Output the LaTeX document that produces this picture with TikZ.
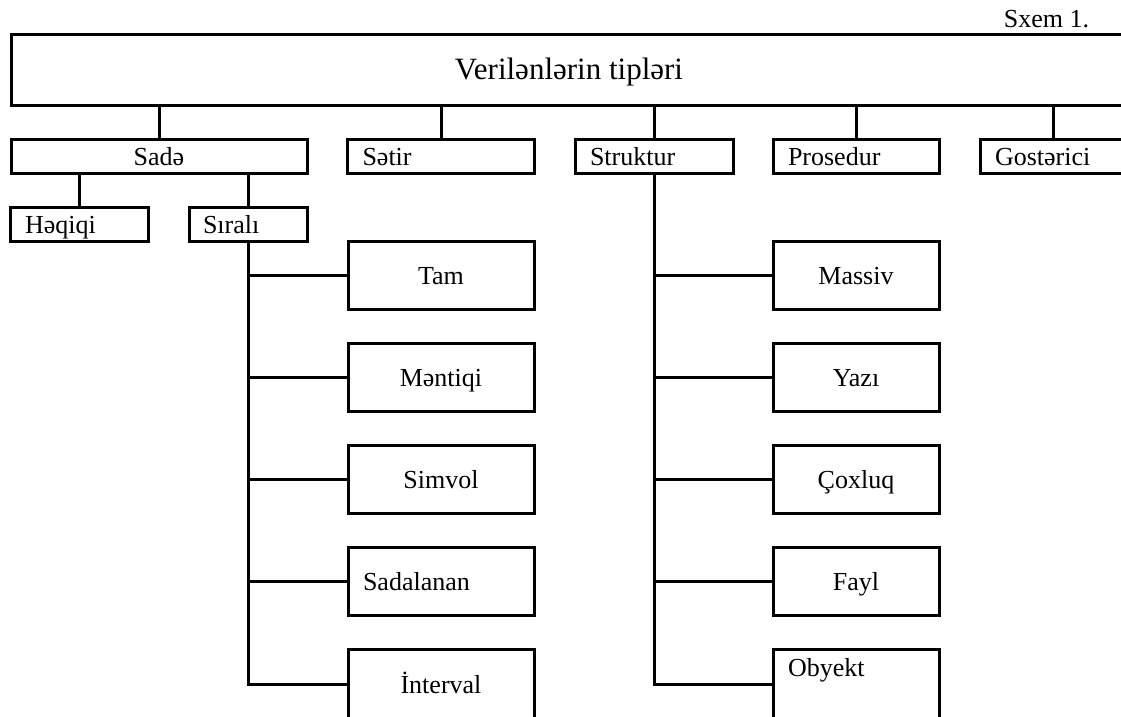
\documentclass[tikz,border=0pt]{standalone}
\usepackage{fontspec}
\setmainfont{Liberation Serif}
\usetikzlibrary{positioning}
\newcommand{\boxfont}{\fontsize{26}{30}\selectfont}
\newcommand{\titlefont}{\fontsize{31}{36}\selectfont}

\begin{document}
\begin{tikzpicture}[x=1pt, y=-1pt, line width=3pt, node distance=34pt,
    box/.style={draw, outer sep=0pt, inner xsep=15pt, inner ysep=0pt, font=\boxfont, text height=20pt, text depth=2pt},
    kind/.style={box, minimum width=#1, minimum height=34pt},
    lkind/.style={box, text width=#1, align=left, minimum height=34pt},
    sub/.style={box, minimum width=#1, minimum height=68pt},
    lsub/.style={box, text width=#1, align=left, minimum height=68pt}]
  \useasboundingbox (0,0) rectangle (1121,716);
  \clip (0,0) rectangle (1121,716);

  % root and caption
  \node [draw, outer sep=0pt, minimum width=1116pt, minimum height=71pt, font=\titlefont, text height=22pt, text depth=3pt] (tipler) at (569,69.5) {Verilənlərin tipləri};
  \node [font=\boxfont, anchor=base east] (sxem) at (1094,27) {Sxem 1.};

  % second level
  \node [kind=296pt]  (sade)      at (159,156)  {Sadə};
  \node [lkind=157pt] (setir)     at (441,156)  {Sətir};
  \node [lkind=128pt] (struktur)  at (654,156)  {Struktur};
  \node [lkind=136pt] (prosedur)  at (856,156)  {Prosedur};
  \node [lkind=116pt] (gosterici) at (1053,156) {Gostərici};

  \node [lkind=108pt]                (heqiqi) at (79,224)  {Həqiqi};
  \node [lkind=90pt, inner xsep=14pt] (sirali) at (248,224) {Sıralı};

  % ordinal types
  \node [sub=186pt]                      (tam)                        at (441,275) {Tam};
  \node [sub=186pt]                      (mentiqi)   [below=of tam]       {Məntiqi};
  \node [sub=186pt]                      (simvol)    [below=of mentiqi]   {Simvol};
  \node [lsub=156pt]                     (sadalanan) [below=of simvol]    {Sadalanan};
  \node [sub=186pt, minimum height=70pt] (interval)  [below=of sadalanan] {İnterval};

  % structured types
  \node [sub=166pt]                                      (massiv)               at (856,275) {Massiv};
  \node [sub=166pt]                                      (yazi)   [below=of massiv] {Yazı};
  \node [sub=166pt]                                      (coxluq) [below=of yazi]   {Çoxluq};
  \node [sub=166pt]                                      (fayl)   [below=of coxluq] {Fayl};
  \node [lsub=136pt, minimum height=70pt, text depth=36pt] (obyekt) [below=of fayl]   {Obyekt};

  \draw (tipler.south -| sade.north) -- (sade.north);
  \draw (tipler.south -| setir.north) -- (setir.north);
  \draw (tipler.south -| struktur.north) -- (struktur.north);
  \draw (tipler.south -| prosedur.north) -- (prosedur.north);
  \draw (tipler.south -| gosterici.north) -- (gosterici.north);

  \draw (sade.south -| heqiqi.north) -- (heqiqi.north);
  \draw (sade.south -| sirali.north) -- (sirali.north);

  \draw (sirali.south) |- (tam.west);
  \draw (sirali.south) |- (mentiqi.west);
  \draw (sirali.south) |- (simvol.west);
  \draw (sirali.south) |- (sadalanan.west);
  \draw (sirali.south) |- (interval.west);

  \draw (struktur.south) |- (massiv.west);
  \draw (struktur.south) |- (yazi.west);
  \draw (struktur.south) |- (coxluq.west);
  \draw (struktur.south) |- (fayl.west);
  \draw (struktur.south) |- (obyekt.west);
\end{tikzpicture}
\end{document}
